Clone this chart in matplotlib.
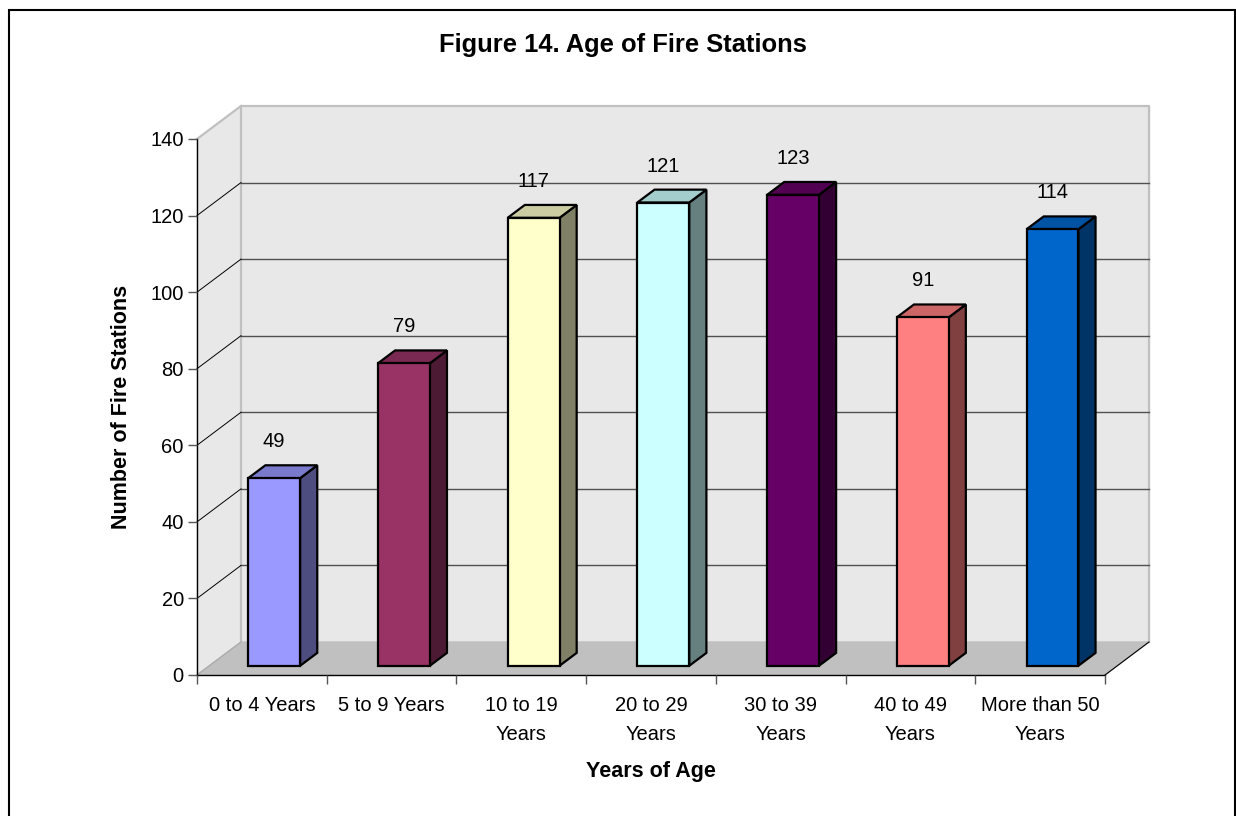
import numpy as np
import matplotlib.pyplot as plt
from matplotlib.patches import Rectangle

plt.rcParams['font.family'] = ['Liberation Sans', 'DejaVu Sans']

# data
categories = ['0 to 4 Years', '5 to 9 Years', '10 to 19\nYears', '20 to 29\nYears',
              '30 to 39\nYears', '40 to 49\nYears', 'More than 50\nYears']
stations = [49, 79, 117, 121, 123, 91, 114]
bar_colors = ['#9999FF', '#993366', '#FFFFCC', '#CCFFFF', '#660066', '#FF8080', '#0066CC']
y_ticks = [0, 20, 40, 60, 80, 100, 120, 140]

# 3d look: depth offset in data units, bar depth range and width
DX, DY = 0.339, 8.62
F0, F1 = 0.28, 0.67
BW = 0.40
YMAX = 140


def shade(c, k):
    r, g, b = plt.matplotlib.colors.to_rgb(c)
    return (r * k, g * k, b * k)


fig = plt.figure(figsize=(12.36, 8.16), dpi=100)
ax = fig.add_axes([197 / 1236, 141 / 816, 908 / 1236, 536 / 816])
ax.set_facecolor('none')
ax.set_xlim(-0.5, 6.5)
ax.set_ylim(0, YMAX)
x0, x1 = -0.5, len(categories) - 0.5

# walls and floor
wall = dict(clip_on=False, zorder=0.5)
ax.fill([x0, x0 + DX, x0 + DX, x0], [0, DY, YMAX + DY, YMAX], color='#E8E8E8', **wall)
ax.fill([x0 + DX, x1 + DX, x1 + DX, x0 + DX], [DY, DY, YMAX + DY, YMAX + DY], color='#E8E8E8', **wall)
ax.fill([x0, x1, x1 + DX, x0 + DX], [0, 0, DY, DY], color='#C0C0C0', **wall)
# wall edges
ax.plot([x0 + DX, x0 + DX, x1 + DX, x1 + DX], [DY, YMAX + DY, YMAX + DY, DY],
        color='#C0C0C0', lw=1.6, clip_on=False, zorder=0.8)
ax.plot([x0, x0 + DX], [YMAX, YMAX + DY], color='#C0C0C0', lw=1.6, clip_on=False, zorder=0.8)
ax.plot([x0, x0 + DX], [0, DY], color='#A8A8A8', lw=0.8, clip_on=False, zorder=0.8)
ax.plot([x1, x1 + DX], [0, DY], color='black', lw=0.8, clip_on=False, zorder=0.8)

# gridlines
for v in y_ticks[1:-1]:
    ax.plot([x0 + DX, x1 + DX], [v + DY, v + DY], color='#505050', lw=1.0, clip_on=False, zorder=0.9)
    ax.plot([x0, x0 + DX], [v, v + DY], color='black', lw=0.7, clip_on=False, zorder=0.9)

# bars
for i, (v, c) in enumerate(zip(stations, bar_colors)):
    l = i - BW / 2 + F0 * DX
    r = l + BW
    b = F0 * DY
    d = (F1 - F0)
    front_x = [l, r, r, l]
    front_y = [b, b, b + v, b + v]
    side_x = [r, r + d * DX, r + d * DX, r]
    side_y = [b, b + d * DY, b + d * DY + v, b + v]
    top_x = [l, r, r + d * DX, l + d * DX]
    top_y = [b + v, b + v, b + v + d * DY, b + v + d * DY]
    for px, py, col in [(side_x, side_y, shade(c, 0.5)), (top_x, top_y, shade(c, 0.8)),
                        (front_x, front_y, c)]:
        ax.fill(px, py, facecolor=col, edgecolor='black', lw=1.6, joinstyle='miter',
                clip_on=False, zorder=2 + i)
    ax.annotate(str(v), (i + F0 * DX, v + F1 * DY), xytext=(0, 17), textcoords='offset points',
                ha='center', va='center', fontsize=14.5, zorder=10)

# axes
for s in ['top', 'right']:
    ax.spines[s].set_visible(False)
for s in ['left', 'bottom']:
    ax.spines[s].set_color('black')
    ax.spines[s].set_linewidth(1.0)
    ax.spines[s].set_zorder(1)
ax.set_yticks(y_ticks)
ax.set_xticks(np.arange(len(categories) + 1) - 0.5)
ax.set_xticklabels([])
ax.set_xticks(np.arange(len(categories)), minor=True)
ax.set_xticklabels(categories, minor=True, linespacing=1.68)
ax.tick_params(axis='y', length=6.5, width=1, color='#555555', labelsize=14.5, pad=3)
ax.tick_params(axis='x', which='major', length=6.5, width=1, color='#555555')
ax.tick_params(axis='x', which='minor', length=0, labelsize=14.5, pad=15)

ax.set_xlabel('Years of Age', fontsize=15.5, fontweight='bold', labelpad=12)
ax.set_ylabel('Number of Fire Stations', fontsize=15.5, fontweight='bold', labelpad=13)
fig.text(623 / 1236, 1 - 45 / 816, 'Figure 14. Age of Fire Stations', ha='center', va='center',
         fontsize=18.4, fontweight='bold')

# outer chart border
fig.patches.append(Rectangle((8.5 / 1236, -0.05), 1226 / 1236, 1.05 - 9.5 / 816,
                             transform=fig.transFigure, fill=False, edgecolor='black', lw=1.5))

fig.savefig('out.png', dpi=100)
